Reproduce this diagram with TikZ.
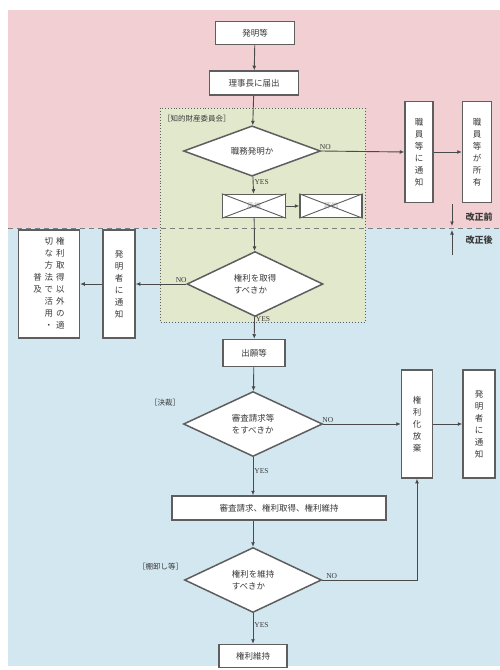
\documentclass[tikz,border=0pt]{standalone}
\usepackage{fontspec}
\newfontfamily\jp{Noto Sans CJK JP}
\newfontfamily\lat{Liberation Serif}
\usetikzlibrary{shapes.geometric,arrows.meta}
\definecolor{pinkbg}{HTML}{F2CFD3}
\definecolor{bluebg}{HTML}{D3E7F0}
\definecolor{greenbg}{HTML}{E2E8CC}
\definecolor{lc}{HTML}{4A4A4A}
\definecolor{bc}{HTML}{5E5E5E}
\definecolor{tc}{HTML}{3A3A3A}
\begin{document}
\begin{tikzpicture}[x=1pt,y=-1pt,
  box/.style={draw=bc,line width=1.5pt,fill=white,inner sep=0pt,font=\jp\fontsize{8.5}{11}\selectfont,text=tc,align=center},
  vbox/.style={box,font=\jp\fontsize{8.5}{12}\selectfont},
  dia/.style={diamond,draw=bc,line width=1.5pt,fill=white,inner sep=0pt,font=\jp\fontsize{8.5}{12.5}\selectfont,text=tc,align=left},
  arr/.style={draw=lc,line width=0.9pt,-{Latex[length=4.5pt,width=4pt]}},
  lbl/.style={font=\lat\fontsize{7.5}{9}\selectfont,text=tc,inner sep=1pt},
  cat/.style={font=\jp\fontsize{7.5}{9}\selectfont,text=tc,inner sep=0pt},
  xbox/.style={draw=bc,line width=1.5pt,fill=white,inner sep=0pt}
]
\useasboundingbox (0,0) rectangle (500,670);
\fill[white] (0,0) rectangle (500,670);
\fill[pinkbg] (8,10) rectangle (500,228);
\fill[bluebg] (8,228) rectangle (500,666);
\fill[greenbg] (160,108) rectangle (365,322);
\draw[bc,line width=0.9pt,dotted] (160,108) rectangle (365,322);
\draw[bc!80,line width=1pt,dash pattern=on 5pt off 4pt] (8,228) -- (500,228);

\node[cat,anchor=west] (iinkai) at (163,119) {［知的財産委員会］};
\node[cat,anchor=west] (kessai) at (150,403) {［決裁］};
\node[cat,anchor=west] (tanaoroshi) at (138,567) {［棚卸し等］};

% nodes
\node[box,minimum width=79pt,minimum height=23pt] (hatsumei) at (255,33) {発明等};
\node[box,minimum width=89pt,minimum height=24pt] (todokede) at (254,83) {理事長に届出};
\node[dia,minimum width=137pt,minimum height=43pt] (d1) at (252,151) {職務発明か};
\node[xbox,minimum width=63pt,minimum height=23pt] (x1) at (254,206) {};
\node[xbox,minimum width=62pt,minimum height=23pt] (x2) at (331,206) {};
\node[vbox,minimum width=28pt,minimum height=101pt] (s1) at (419,152) {職\\員\\等\\に\\通\\知};
\node[vbox,minimum width=29pt,minimum height=101pt] (s2) at (477,152) {職\\員\\等\\が\\所\\有};
\node[dia,minimum width=136pt,minimum height=65pt] (d2) at (255,284) {権利を取得\\すべきか};
\node[vbox,minimum width=32pt,minimum height=108pt] (n1) at (119,284) {発\\明\\者\\に\\通\\知};
\node[vbox,minimum width=61pt,minimum height=108pt] (katsuyo) at (49,284) {%
\begin{tabular}{@{}c@{}}普\\及\end{tabular}\hspace{3pt}%
\begin{tabular}{@{}c@{}}切\\な\\方\\法\\で\\活\\用\\・\end{tabular}\hspace{3pt}%
\begin{tabular}{@{}c@{}}権\\利\\取\\得\\以\\外\\の\\適\end{tabular}};
\node[box,minimum width=62pt,minimum height=27pt] (shutsugan) at (254,353) {出願等};
\node[dia,minimum width=139pt,minimum height=65pt] (d3) at (253,424) {審査請求等\\をすべきか};
\node[vbox,minimum width=31pt,minimum height=108pt] (houki) at (417,424) {権\\利\\化\\放\\棄};
\node[vbox,minimum width=32pt,minimum height=108pt] (n2) at (479,424) {発\\明\\者\\に\\通\\知};
\node[box,minimum width=214pt,minimum height=24pt] (shinsa) at (279,508) {審査請求、権利取得、権利維持};
\node[dia,minimum width=137pt,minimum height=65pt] (d4) at (253,580) {権利を維持\\すべきか};
\node[box,minimum width=68pt,minimum height=23pt] (iji) at (253,656) {権利維持};

% crossed boxes
\foreach \b/\t in {x1/承継,x2/評価}{
  \node[font=\jp\fontsize{7}{8}\selectfont,text=gray!70] (\b t) at (\b) {\t};
  \draw[bc,line width=0.9pt] (\b.north west) -- (\b.south east) (\b.south west) -- (\b.north east);
}

% kaisei labels
\node[font=\jp\bfseries\fontsize{9}{10}\selectfont,text=tc,anchor=west] (mae) at (462,217) {改正前};
\node[font=\jp\bfseries\fontsize{9}{10}\selectfont,text=tc,anchor=west] (ato) at (462,240) {改正後};
\coordinate (kA) at (452,204);
\coordinate (kAe) at (452,226);
\coordinate (kB) at (452,255);
\coordinate (kBe) at (452,230);
\draw[arr] (kA) -- (kAe);
\draw[arr] (kB) -- (kBe);

% connectors
\draw[arr] (hatsumei) -- (todokede);
\draw[arr] (todokede) -- (d1);
\draw[arr] (d1) -- node[lbl,right,pos=0.3] (y1) {YES} (x1);
\draw[arr] (x1) -- (x2);
\draw[arr] (d1.east) -- node[lbl,above,pos=0.05] (no1) {NO} (s1.west);
\draw[arr] (s1) -- (s2);
\draw[arr] (x1) -- (d2);
\draw[arr] (d2.west) -- node[lbl,above,pos=0.1] (no2) {NO} (n1.east);
\draw[arr] (n1) -- (katsuyo);
\draw[arr] (d2) -- node[lbl,right,pos=0.1] (y2) {YES} (shutsugan);
\draw[arr] (shutsugan) -- (d3);
\draw[arr] (d3.east) -- node[lbl,above,pos=0.06] (no3) {NO} (houki.west);
\draw[arr] (houki) -- (n2);
\draw[arr] (d3) -- node[lbl,right,pos=0.35] (y3) {YES} (d3|-shinsa.north);
\draw[arr] (d3|-shinsa.south) -- (d4);
\draw[arr] (d4.east) -| node[lbl,above,pos=0.05] (no4) {NO} (houki.south);
\draw[arr] (d4) -- node[lbl,right,pos=0.4] (y4) {YES} (iji);
\end{tikzpicture}
\end{document}
